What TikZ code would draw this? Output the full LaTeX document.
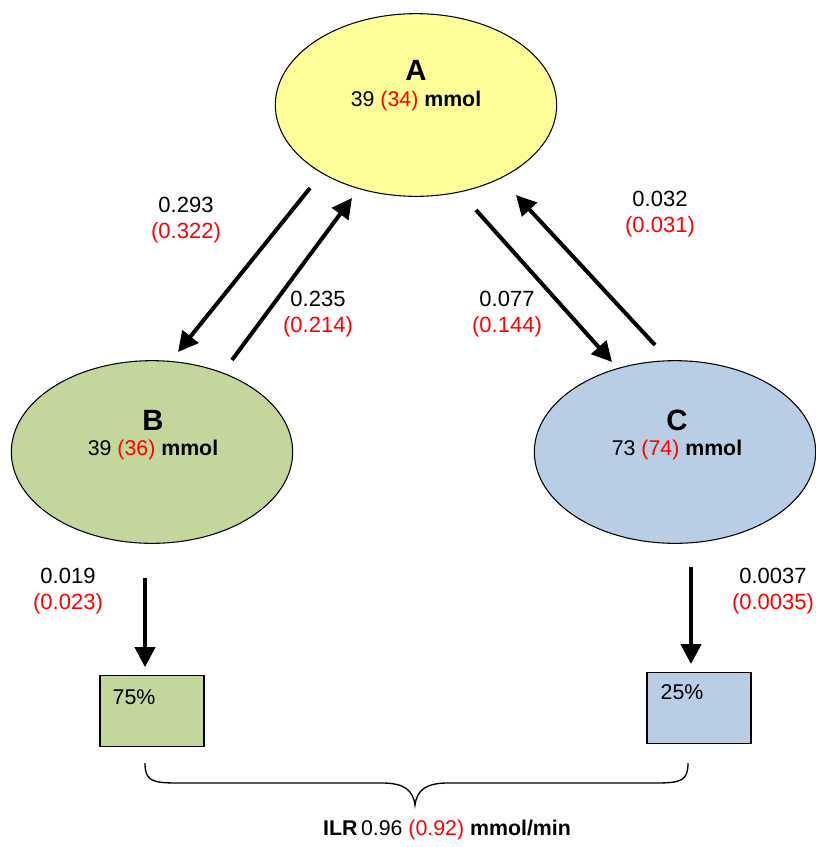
\documentclass[tikz,border=0pt]{standalone}
\usepackage{fontspec}
\setmainfont{Liberation Sans}
\usetikzlibrary{arrows.meta,shapes.geometric}
\definecolor{poolA}{RGB}{255,255,153}
\definecolor{poolB}{RGB}{195,214,155}
\definecolor{poolC}{RGB}{185,205,229}
\newcommand{\old}[1]{\textcolor{red}{#1}}

\begin{document}
\begin{tikzpicture}[x=0.75pt,y=-0.75pt,
	pool/.style={draw, ellipse, line width=0.8pt, inner sep=0pt, minimum width=211pt, minimum height=137pt},
	poolname/.style={font=\fontsize{22}{26}\selectfont\bfseries},
	poolsize/.style={font=\fontsize{16}{19}\selectfont},
	rate/.style={align=center, font=\fontsize{16.5}{19.5}\selectfont},
	flow/.style={line width=3pt, -{Triangle[length=15pt,width=15pt]}},
	store/.style={draw, line width=0.8pt, inner sep=0pt, minimum width=78pt, minimum height=53pt}]

	\useasboundingbox (0,0) rectangle (815,847);

	% pools
	\node[pool, fill=poolA] (A) at (416,105) {};
	\node[poolname] (Aname) at (416,70) {A};
	\node[poolsize] (Asize) at (416,101) {39 \old{(34)} \textbf{mmol}};

	\node[pool, fill=poolB] (B) at (152,452) {};
	\node[poolname] (Bname) at (153,420) {B};
	\node[poolsize] (Bsize) at (153,450) {39 \old{(36)} \textbf{mmol}};

	\node[pool, fill=poolC] (C) at (675,452) {};
	\node[poolname] (Cname) at (677,420) {C};
	\node[poolsize] (Csize) at (677,450) {73 \old{(74)} \textbf{mmol}};

	% outputs
	\node[store, fill=poolB] (Bout) at (152,711) {};
	\node (Bpct) at (134,697) {\fontsize{16}{19}\selectfont 75\%};
	\node[store, fill=poolC] (Cout) at (699,708) {};
	\node (Cpct) at (682,692) {\fontsize{16}{19}\selectfont 25\%};

	% arrow ends
	\coordinate (AtoB1) at (310,188);
	\coordinate (AtoB2) at (178,352);
	\coordinate (BtoA1) at (232,360);
	\coordinate (BtoA2) at (352,198);
	\coordinate (AtoC1) at (476,210);
	\coordinate (AtoC2) at (612,362);
	\coordinate (CtoA1) at (655,345);
	\coordinate (CtoA2) at (516,195);
	\coordinate (Bdown) at (145,578);
	\coordinate (Cdown) at (691,567);

	\draw[flow] (AtoB1) -- (AtoB2);
	\draw[flow] (BtoA1) -- (BtoA2);
	\draw[flow] (AtoC1) -- (AtoC2);
	\draw[flow] (CtoA1) -- (CtoA2);
	\draw[flow] (Bdown) -- ([yshift=6pt]Bdown |- Bout.north);
	\draw[flow] (Cdown) -- ([yshift=6pt]Cdown |- Cout.north);

	% rate constants
	\node[rate] (kBA) at (186,220) {0.293\\\old{(0.322)}};
	\node[rate] (kAB) at (318,314) {0.235\\\old{(0.214)}};
	\node[rate] (kCA) at (507,314) {0.077\\\old{(0.144)}};
	\node[rate] (kAC) at (660,214) {0.032\\\old{(0.031)}};
	\node[rate] (kB0) at (68,591) {0.019\\\old{(0.023)}};
	\node[rate] (kC0) at (773,591) {0.0037\\\old{(0.0035)}};

	% brace
	\draw[line width=1pt] (145,763) .. controls (145,781) and (152,783) .. (178,783) -- (382,783)
		.. controls (404,783) and (413,790) .. (415,805) .. controls (417,790) and (426,783) .. (448,783)
		-- (655,783) .. controls (681,783) and (688,781) .. (688,763);
	\node (ILR) at (447,830) {\fontsize{16}{19}\selectfont\textbf{ILR}\,0.96 \old{(0.92)} \textbf{mmol/min}};
\end{tikzpicture}
\end{document}
